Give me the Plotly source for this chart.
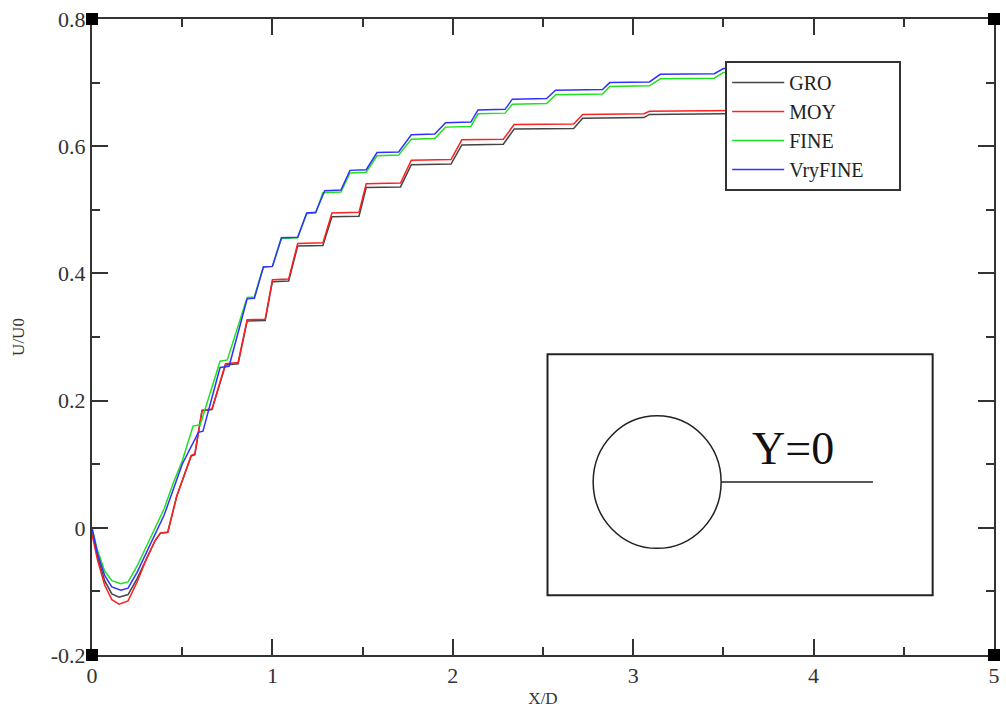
import plotly.graph_objects as go

# Streamwise velocity profile along the wake centreline (Y=0) for four mesh levels
gro_x = [0.0, 0.03, 0.07, 0.11, 0.15, 0.2, 0.25, 0.3, 0.35, 0.38, 0.42, 0.47, 0.55, 0.57,
         0.61, 0.665, 0.74, 0.81, 0.86, 0.96, 1.0, 1.09, 1.14, 1.28, 1.33, 1.48, 1.52, 1.71,
         1.77, 1.99, 2.05, 2.28, 2.34, 2.67, 2.72, 3.06, 3.09, 3.5, 3.9]
gro_y = [-0.005, -0.045, -0.083, -0.104, -0.109, -0.105, -0.08, -0.05, -0.02, -0.008,
         -0.007, 0.05, 0.113, 0.115, 0.184, 0.186, 0.256, 0.258, 0.325, 0.326, 0.387, 0.388,
         0.443, 0.444, 0.489, 0.49, 0.535, 0.536, 0.571, 0.572, 0.602, 0.603, 0.627, 0.628,
         0.644, 0.645, 0.65, 0.651, 0.652]

moy_x = [0.0, 0.03, 0.07, 0.11, 0.15, 0.2, 0.25, 0.3, 0.35, 0.38, 0.42, 0.47, 0.55, 0.57,
         0.61, 0.665, 0.74, 0.81, 0.86, 0.96, 1.0, 1.09, 1.14, 1.28, 1.33, 1.48, 1.52, 1.71,
         1.77, 1.99, 2.05, 2.28, 2.34, 2.67, 2.72, 3.06, 3.09, 3.5, 3.9]
moy_y = [-0.01, -0.05, -0.09, -0.113, -0.12, -0.115, -0.085, -0.05, -0.02, -0.008,
         -0.007, 0.05, 0.114, 0.116, 0.185, 0.187, 0.258, 0.26, 0.327, 0.328, 0.39, 0.391,
         0.447, 0.448, 0.495, 0.496, 0.541, 0.542, 0.578, 0.579, 0.61, 0.611, 0.634, 0.635,
         0.65, 0.651, 0.655, 0.656, 0.657]

fine_x = [0.0, 0.03, 0.07, 0.11, 0.16, 0.2, 0.25, 0.3, 0.35, 0.4, 0.45, 0.5, 0.56, 0.6,
          0.71, 0.75, 0.86, 0.9, 0.95, 1.0, 1.05, 1.14, 1.19, 1.24, 1.28, 1.38, 1.43, 1.52,
          1.58, 1.7, 1.77, 1.9, 1.96, 2.1, 2.14, 2.29, 2.33, 2.52, 2.57, 2.83, 2.87, 3.09,
          3.15, 3.45, 3.5, 3.9]
fine_y = [0.0, -0.035, -0.068, -0.083, -0.088, -0.085, -0.06, -0.03, 0.0, 0.03, 0.07,
          0.105, 0.16, 0.162, 0.262, 0.264, 0.362, 0.363, 0.41, 0.411, 0.455, 0.456, 0.494,
          0.495, 0.527, 0.528, 0.558, 0.559, 0.585, 0.586, 0.611, 0.612, 0.63, 0.631, 0.651,
          0.652, 0.666, 0.667, 0.681, 0.682, 0.694, 0.695, 0.706, 0.707, 0.716, 0.72]

vfine_x = [0.0, 0.03, 0.07, 0.11, 0.16, 0.2, 0.25, 0.3, 0.35, 0.4, 0.45, 0.5, 0.59, 0.615,
           0.71, 0.76, 0.86, 0.9, 0.95, 1.0, 1.05, 1.14, 1.19, 1.24, 1.29, 1.38, 1.43, 1.52,
           1.58, 1.7, 1.77, 1.9, 1.96, 2.1, 2.14, 2.29, 2.33, 2.52, 2.57, 2.83, 2.87, 3.09,
           3.15, 3.45, 3.5, 3.9]
vfine_y = [0.0, -0.04, -0.075, -0.093, -0.098, -0.095, -0.07, -0.04, -0.01, 0.02, 0.06,
           0.1, 0.15, 0.152, 0.252, 0.254, 0.36, 0.361, 0.41, 0.411, 0.456, 0.457, 0.495,
           0.496, 0.53, 0.531, 0.562, 0.563, 0.59, 0.591, 0.618, 0.619, 0.637, 0.638, 0.657,
           0.658, 0.674, 0.675, 0.688, 0.689, 0.7, 0.701, 0.713, 0.714, 0.722, 0.726]

series_names = ["GRO", "MOY", "FINE", "VryFINE"]
series_colors = ["#444444", "#ff2020", "#20e020", "#3030ff"]

x_tickvals = [0, 1, 2, 3, 4, 5]
x_ticktext = ["0", "1", "2", "3", "4", "5"]
y_tickvals = [-0.2, 0, 0.2, 0.4, 0.6, 0.8]
y_ticktext = ["-0.2", "0", "0.2", "0.4", "0.6", "0.8"]

SERIF = "Liberation Serif, Times New Roman, serif"
AXIS_COLOR = "#333333"
LEGEND_PAD = "\u00a0" * 6  # extra room on the right of the legend entries

fig = go.Figure()
for name, color, xs, ys in zip(series_names, series_colors,
                               [gro_x, moy_x, fine_x, vfine_x],
                               [gro_y, moy_y, fine_y, vfine_y]):
    fig.add_trace(go.Scatter(x=xs, y=ys, mode="lines", name=name + LEGEND_PAD,
                             line=dict(color=color, width=1.5)))

axis_common = dict(
    showgrid=False, zeroline=False, showline=True, linecolor=AXIS_COLOR, linewidth=2,
    mirror="allticks", ticks="inside", ticklen=16, tickwidth=2, tickcolor=AXIS_COLOR,
    tickfont=dict(family=SERIF, size=22, color="#333333"),
)

fig.update_xaxes(range=[0, 5], tickvals=x_tickvals, ticktext=x_ticktext,
                 minor=dict(dtick=0.5, ticks="inside", ticklen=8, tickwidth=2,
                            tickcolor=AXIS_COLOR, showgrid=False),
                 title=dict(text="X/D", font=dict(family=SERIF, size=17, color="#333333"),
                            standoff=5),
                 **axis_common)
fig.update_yaxes(range=[-0.2, 0.8], tickvals=y_tickvals, ticktext=y_ticktext,
                 minor=dict(dtick=0.1, ticks="inside", ticklen=8, tickwidth=2,
                            tickcolor=AXIS_COLOR, showgrid=False),
                 title=dict(text="U/U0", font=dict(family=SERIF, size=17, color="#333333"),
                            standoff=22),
                 **axis_common)

shapes = []
# corner markers of the frame
for cx in (0, 1):
    for cy in (0, 1):
        shapes.append(dict(type="rect", xref="paper", yref="paper",
                           xsizemode="pixel", ysizemode="pixel",
                           xanchor=cx, yanchor=cy, x0=-6, x1=6, y0=-6, y1=6,
                           fillcolor="black", line=dict(width=0)))

# sketch of the cylinder and the sampling line
shapes.append(dict(type="rect", xref="paper", yref="paper",
                   x0=0.505, x1=0.932, y0=0.094, y1=0.473,
                   line=dict(color="#222222", width=2), fillcolor="white"))
shapes.append(dict(type="circle", xref="paper", yref="paper",
                   x0=0.5556, x1=0.6975, y0=0.1677, y1=0.3762,
                   line=dict(color="#222222", width=1.5)))
shapes.append(dict(type="line", xref="paper", yref="paper",
                   x0=0.6975, x1=0.8658, y0=0.272, y1=0.272,
                   line=dict(color="#222222", width=1.5)))

fig.update_layout(
    width=1006, height=715,
    margin=dict(l=92, r=6, t=19, b=60),
    paper_bgcolor="white", plot_bgcolor="white",
    shapes=shapes,
    annotations=[dict(text="Y=0", xref="paper", yref="paper", x=0.777, y=0.325,
                      xanchor="center", yanchor="middle",
                      showarrow=False, font=dict(family=SERIF, size=46, color="#111111"))],
    legend=dict(x=0.702, y=0.934, xanchor="left", yanchor="top",
                bgcolor="white", bordercolor="#333333", borderwidth=2,
                font=dict(family=SERIF, size=20, color="#222222"),
                itemwidth=52, tracegroupgap=0),
    showlegend=True,
)

fig.write_html("out.html")
